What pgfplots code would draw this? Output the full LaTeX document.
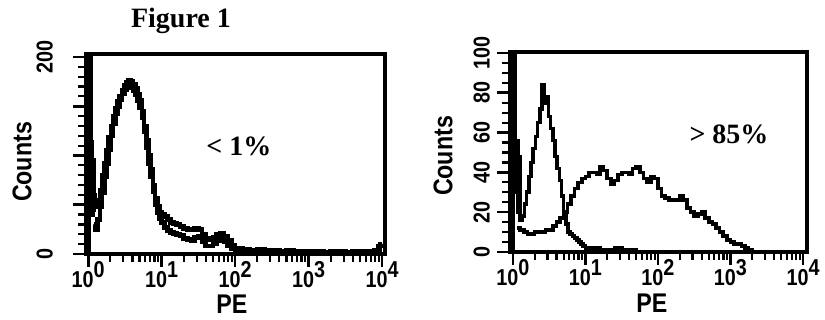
\documentclass[border=0pt]{standalone}
\usepackage{pgfplots}
\pgfplotsset{compat=1.18}
\usepackage{fontspec}
\setmainfont{Liberation Serif}
\newfontfamily\sansf[FakeStretch=0.86]{Liberation Sans}
\newcommand{\tickfont}{\sansf\bfseries\fontsize{23bp}{23bp}\selectfont}
\newcommand{\labfont}{\sansf\bfseries\fontsize{27bp}{27bp}\selectfont}
\newcommand{\serbf}{\rmfamily\bfseries\fontsize{28bp}{28bp}\selectfont}
\newcommand{\ex}[1]{10\raisebox{10bp}{#1}}
\pgfplotsset{flow/.style={
  scale only axis,
  axis line style={line width=3.2bp},
  xtick={0,1,2,3,4},
  xticklabels={\ex{0},\ex{1},\ex{2},\ex{3},\ex{4}},
  minor xtick={0.301,0.477,0.602,0.699,0.778,0.845,0.903,0.954,
               1.301,1.477,1.602,1.699,1.778,1.845,1.903,1.954,
               2.301,2.477,2.602,2.699,2.778,2.845,2.903,2.954,
               3.301,3.477,3.602,3.699,3.778,3.845,3.903,3.954},
  tick align=outside, xtick pos=bottom, ytick pos=left,
  major tick length=13bp, minor tick length=8bp,
  tick style={line width=2.6bp, black},
  minor tick style={line width=2.2bp},
  tick label style={font=\tickfont},
  /pgf/number format/assume math mode=true,
  xticklabel style={anchor=north, inner sep=0bp, yshift=6bp},
  yticklabel style={rotate=90, anchor=south, inner sep=2bp},
  label style={font=\labfont},
  no marks, const plot,
}}
\begin{document}
\begin{tikzpicture}
\useasboundingbox (0,0) rectangle (825bp,320bp);
\node[font=\serbf] at (181bp,299bp) {Figure 1};
% ---------------- left panel ----------------
\begin{axis}[flow,
  at={(86bp,66bp)}, anchor=south west,
  width=299bp, height=200bp,
  xmin=-0.03, xmax=4.04, ymin=0, ymax=203,
  ytick={0,50,100,150,200}, yticklabels={0,,,,200},
  minor y tick num=4,
  yticklabel style={yshift=18bp},
  xlabel={PE}, ylabel={Counts},
  xlabel style={at={(axis description cs:0.488,-0.25)}, anchor=center},
  ylabel style={at={(axis description cs:-0.214,0.46)}, anchor=center, rotate=0},
]
\addplot[line width=4.6bp] coordinates {
(0.00,0) (0.01,210) (0.03,60) (0.04,113) (0.05,40) (0.06,95) (0.07,45) (0.08,60)
(0.09,50) (0.10,48) (0.13,55) (0.16,65) (0.19,80) (0.22,92) (0.25,105) (0.28,118)
(0.31,130) (0.34,140) (0.37,148) (0.40,155) (0.43,160) (0.46,166) (0.49,171)
(0.52,174) (0.55,176) (0.58,175) (0.61,172) (0.64,168) (0.67,162) (0.70,156)
(0.73,145) (0.76,130) (0.79,115) (0.82,100) (0.85,86) (0.88,70) (0.91,57)
(0.94,48) (0.97,42) (1.00,40) (1.04,38) (1.08,35) (1.12,32) (1.16,31) (1.20,30)
(1.25,28) (1.30,26) (1.35,25) (1.40,25) (1.45,26) (1.50,25) (1.55,20) (1.60,16)
(1.65,15) (1.70,17) (1.75,20) (1.80,21) (1.85,18) (1.90,14) (1.95,9) (2.00,6)
(2.10,5) (2.20,4) (2.30,5) (2.40,4) (2.50,4) (2.60,3) (2.70,4) (2.80,3) (2.90,3)
(3.00,3) (3.10,3) (3.20,2) (3.30,3) (3.40,3) (3.50,2) (3.60,3) (3.70,3) (3.80,3)
(3.90,3) (3.95,8) (3.98,10) (4.00,10)
};
\addplot[line width=4.6bp] coordinates {
(0.08,30) (0.10,25) (0.13,35) (0.16,48) (0.19,62) (0.22,78) (0.25,92) (0.28,106)
(0.31,120) (0.34,132) (0.37,142) (0.40,150) (0.43,157) (0.46,163) (0.49,167)
(0.52,170) (0.55,170) (0.58,169) (0.61,166) (0.64,162) (0.67,156) (0.70,149)
(0.73,138) (0.76,124) (0.79,108) (0.82,92) (0.85,78) (0.88,63) (0.91,50)
(0.94,42) (0.97,36) (1.00,32) (1.04,27) (1.08,24) (1.12,22) (1.16,21) (1.20,20)
(1.25,19) (1.30,16) (1.35,15) (1.40,14) (1.45,17) (1.50,18) (1.55,12) (1.60,8)
(1.65,8) (1.70,10) (1.75,14) (1.80,17) (1.85,12) (1.90,8) (1.95,5) (2.00,3)
(2.10,3) (2.20,2) (2.40,3) (2.60,2) (2.80,2) (3.00,2) (3.20,2) (3.40,2) (3.60,2)
(3.80,2) (3.90,4) (4.00,4)
};
\node[font=\serbf] at (axis cs:2.05,109) {< 1\%};
\end{axis}
% ---------------- right panel ----------------
\begin{axis}[flow,
  at={(510bp,68bp)}, anchor=south west,
  width=297bp, height=200bp,
  xmin=-0.04, xmax=4.055, ymin=0, ymax=100.5,
  ytick={0,20,40,60,80,100},
  minor y tick num=3,
  yticklabel style={yshift=5bp},
  xlabel={PE}, ylabel={Counts},
  xlabel style={at={(axis description cs:0.478,-0.255)}, anchor=center},
  ylabel style={at={(axis description cs:-0.225,0.48)}, anchor=center, rotate=0},
]
\addplot[line width=3.6bp] coordinates {
(0.00,0) (0.01,105) (0.03,30) (0.05,56) (0.07,20) (0.09,48) (0.10,16) (0.13,18)
(0.16,24) (0.19,30) (0.22,38) (0.25,45) (0.28,52) (0.31,58) (0.34,65) (0.37,72)
(0.40,84) (0.43,75) (0.46,78) (0.49,68) (0.52,62) (0.55,56) (0.58,48) (0.61,42)
(0.64,36) (0.67,28) (0.70,20) (0.73,14) (0.76,10) (0.79,9) (0.82,8) (0.85,7)
(0.88,6) (0.91,5) (0.94,4) (0.97,3) (1.00,2) (1.05,1) (1.10,2) (1.20,1) (1.30,1)
(1.40,2) (1.50,1) (1.60,1) (1.70,0) (4.00,0)
};
\addplot[line width=3.6bp] coordinates {
(0.05,12) (0.10,11) (0.15,10) (0.20,9) (0.25,9) (0.30,10) (0.35,10) (0.40,10)
(0.45,11) (0.50,11) (0.55,13) (0.60,15) (0.65,17) (0.70,20) (0.75,24) (0.80,28)
(0.85,32) (0.90,35) (0.95,37) (1.00,38) (1.05,40) (1.10,40) (1.15,39) (1.20,43)
(1.25,41) (1.30,37) (1.35,34) (1.40,36) (1.45,39) (1.50,40) (1.55,40) (1.60,39)
(1.65,42) (1.70,43) (1.75,40) (1.80,37) (1.85,35) (1.90,38) (1.95,37) (2.00,32)
(2.05,28) (2.10,27) (2.15,26) (2.20,26) (2.25,26) (2.30,28) (2.35,26) (2.40,22)
(2.45,20) (2.50,18) (2.55,19) (2.60,20) (2.65,17) (2.70,15) (2.75,14) (2.80,12)
(2.85,10) (2.90,8) (2.95,6) (3.00,5) (3.05,4) (3.10,4) (3.15,3) (3.20,2)
(3.25,1) (3.30,0) (4.00,0)
};
\node[font=\serbf] at (axis cs:2.98,59) {> 85\%};
\end{axis}
\end{tikzpicture}
\end{document}
